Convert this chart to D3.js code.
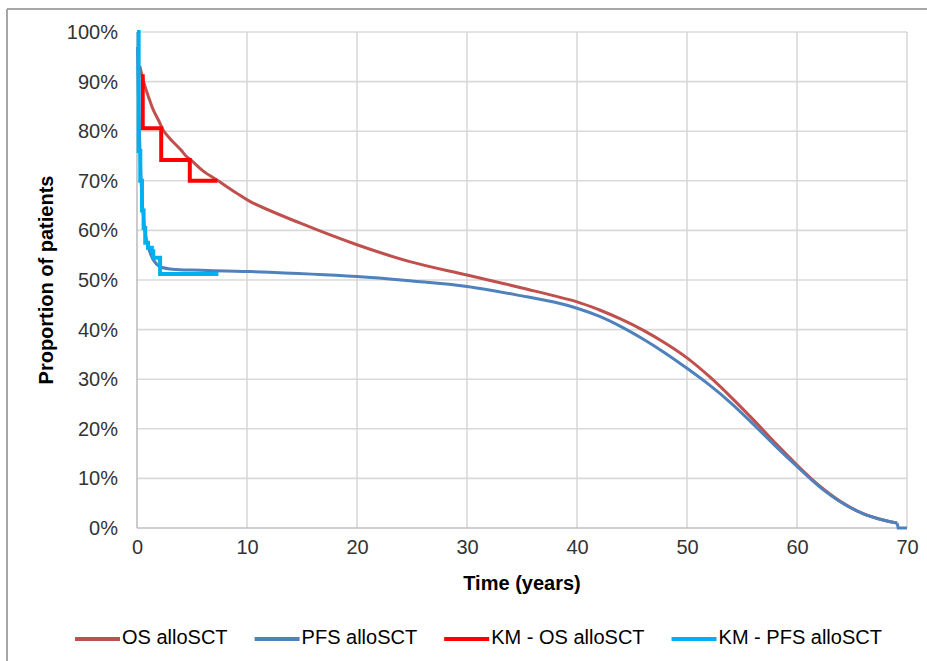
<!DOCTYPE html>
<html><head><meta charset="utf-8">
<script src="https://cdn.jsdelivr.net/npm/d3@7"></script>
<style>
html,body{margin:0;padding:0;background:#fff;}
svg{display:block;font-family:"Liberation Sans",Arial,sans-serif;}
</style></head>
<body><svg id="c" width="927" height="661"></svg>
<script>
// ---- data ----
const xTicks = [0,10,20,30,40,50,60,70];
const yTicks = [0,0.1,0.2,0.3,0.4,0.5,0.6,0.7,0.8,0.9,1.0];

const osT = [0.25,0.5,0.73,1.0,1.48,2.0,2.39,3.0,4.0,4.5,5.0,6.0,7.24,9.0,10.3,14.8,20,24.8,30,35,40,42,44,46,48,50,52,54,56,58,60,62,64,66,68,69.1];
const osV = [0.932,0.908,0.89,0.872,0.843,0.82,0.802,0.785,0.762,0.749,0.74,0.72,0.702,0.676,0.658,0.615,0.571,0.537,0.51,0.484,0.456,0.440,0.421,0.399,0.373,0.343,0.306,0.264,0.219,0.172,0.127,0.086,0.053,0.029,0.015,0.010];

const pfsT = [0.05,0.15,0.3,0.5,0.75,1.0,1.5,2.0,3.0,5.0,10.3,20,25,30,35,38,40,42,44,46,48,50,52,54,56,58,60,62,64,66,68,69.1,69.2,70];
const pfsV = [0.97,0.85,0.74,0.65,0.595,0.568,0.54,0.528,0.522,0.52,0.517,0.507,0.498,0.487,0.468,0.455,0.443,0.427,0.406,0.381,0.353,0.322,0.289,0.252,0.210,0.166,0.124,0.084,0.052,0.029,0.015,0.010,0.0,0.0];

const kmOsT = [0.52,0.52,2.2,4.8,7.3];
const kmOsV = [0.915,0.806,0.742,0.70,0.70];

const kmPfsT = [0,0.15,0.3,0.45,0.6,0.75,1.0,1.35,1.48,2.1,7.4];
const kmPfsV = [1.0,0.76,0.70,0.64,0.605,0.575,0.565,0.558,0.545,0.512,0.512];

const seriesNames = ["OS alloSCT","PFS alloSCT","KM - OS alloSCT","KM - PFS alloSCT"];
const seriesColors = ["#C0504D","#4F81BD","#FF0000","#00B0F0"];

// ---- layout ----
const svg = d3.select("#c");
const L = 137, R = 907, T = 32, B = 528;
const x = d3.scaleLinear().domain([0,70]).range([L,R]);
const y = d3.scaleLinear().domain([0,1]).range([B,T]);
const FS = 20;

// outer border
svg.append("line").attr("x1",7).attr("x2",927).attr("y1",9).attr("y2",9).attr("stroke","#A6A6A6").attr("stroke-width",2);
svg.append("line").attr("x1",7).attr("x2",7).attr("y1",9).attr("y2",661).attr("stroke","#A6A6A6").attr("stroke-width",2);

// gridlines
svg.append("g").selectAll("line").data(yTicks.filter(d=>d>0)).join("line")
  .attr("x1",L).attr("x2",R).attr("y1",d=>y(d)).attr("y2",d=>y(d))
  .attr("stroke","#D9D9D9").attr("stroke-width",1.6);
svg.append("g").selectAll("line").data(xTicks.filter(d=>d>0)).join("line")
  .attr("x1",d=>x(d)).attr("x2",d=>x(d)).attr("y1",T).attr("y2",B)
  .attr("stroke","#D9D9D9").attr("stroke-width",1.6);
// axis lines
svg.append("line").attr("x1",L).attr("x2",L).attr("y1",T).attr("y2",B).attr("stroke","#BFBFBF").attr("stroke-width",1.6);
svg.append("line").attr("x1",L).attr("x2",R).attr("y1",B).attr("y2",B).attr("stroke","#BFBFBF").attr("stroke-width",1.6);

// axes (labels)
const ya = svg.append("g").attr("transform",`translate(${L-19},0)`)
  .call(d3.axisLeft(y).tickValues(yTicks).tickFormat(d3.format(".0%")).tickSize(0).tickPadding(0));
ya.select(".domain").remove();
ya.selectAll("text").attr("font-size",FS).attr("fill","#333").attr("font-family","Liberation Sans, Arial, sans-serif");

const xa = svg.append("g").attr("transform",`translate(0,${B+12})`)
  .call(d3.axisBottom(x).tickValues(xTicks).tickFormat(d3.format("d")).tickSize(0).tickPadding(0));
xa.select(".domain").remove();
xa.selectAll("text").attr("font-size",FS).attr("fill","#333").attr("font-family","Liberation Sans, Arial, sans-serif").attr("dy","0.71em");

// axis titles
svg.append("text").attr("x",(L+R)/2).attr("y",583).attr("dy","0.35em").attr("text-anchor","middle")
  .attr("font-size",FS).attr("font-weight","bold").attr("fill","#000").text("Time (years)");
svg.append("text").attr("transform",`translate(46,${(T+B)/2}) rotate(-90)`).attr("dy","0.35em").attr("text-anchor","middle")
  .attr("font-size",FS).attr("font-weight","bold").attr("fill","#000").text("Proportion of patients");

// lines
const smooth = d3.line().x(d=>x(d[0])).y(d=>y(d[1])).curve(d3.curveCatmullRom.alpha(0.5));
const straight = d3.line().x(d=>x(d[0])).y(d=>y(d[1]));
const step = d3.line().x(d=>x(d[0])).y(d=>y(d[1])).curve(d3.curveStepAfter);
const zip = (a,b)=>a.map((t,i)=>[t,b[i]]);

// OS parametric
svg.append("path").attr("d",smooth(zip(osT,osV))).attr("fill","none").attr("stroke",seriesColors[0]).attr("stroke-width",3);
// PFS parametric: smooth part, then the final drop to zero drawn straight
const pfsPts = zip(pfsT,pfsV);
const iz = pfsPts.findIndex(p=>p[1]===0);
const pg = svg.append("g").attr("fill","none").attr("stroke",seriesColors[1]).attr("stroke-width",3);
pg.append("path").attr("d",smooth(pfsPts.slice(0,iz)));
pg.append("path").attr("d",straight(pfsPts.slice(iz-1)));
// KM curves
svg.append("path").attr("d",step(zip(kmOsT,kmOsV))).attr("fill","none").attr("stroke",seriesColors[2]).attr("stroke-width",4);
svg.append("path").attr("d",step(zip(kmPfsT,kmPfsV))).attr("fill","none").attr("stroke",seriesColors[3]).attr("stroke-width",4);

// legend
const lg = svg.append("g");
let cx = 75; const ly = 637;
seriesNames.forEach((n,i)=>{
  lg.append("line").attr("x1",cx).attr("x2",cx+45).attr("y1",ly+2).attr("y2",ly+2)
    .attr("stroke",seriesColors[i]).attr("stroke-width",4);
  const t = lg.append("text").attr("x",cx+47).attr("y",ly).attr("dy","0.35em")
    .attr("font-size",FS).attr("fill","#000").text(n);
  cx = cx + 47 + t.node().getComputedTextLength() + 27;
});
</script></body></html>
